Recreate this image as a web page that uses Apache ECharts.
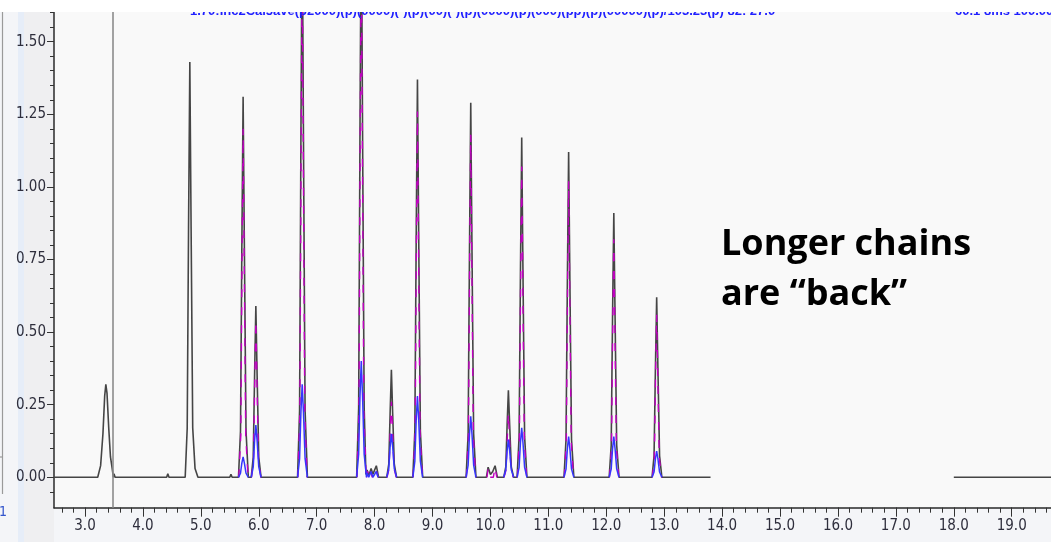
<!DOCTYPE html>
<html><head><meta charset="utf-8">
<script src="https://cdn.jsdelivr.net/npm/echarts@6/dist/echarts.min.js"></script>
<style>html,body{margin:0;padding:0;background:#f4f5f8;}#c{width:1051px;height:542px;}</style>
</head><body><div id="c"></div>
<script>
// ---- data (retention time in min, response) ----
const blackTrace = [
  [2.465,0],
  [3.22,0],[3.27,0.04],[3.31,0.15],[3.34,0.28],[3.36,0.32],[3.38,0.29],[3.41,0.17],[3.44,0.07],[3.47,0.03],[3.49,0],
  [3.50,0.012],[3.52,0],
  [4.41,0],[4.43,0.012],[4.45,0],
  [4.73,0],[4.765,0.17],[4.788,0.86],[4.81,1.43],[4.832,0.86],[4.86,0.17],[4.90,0.03],[4.95,0],
  [5.50,0],[5.52,0.01],[5.54,0],
  [5.65,0],[5.685,0.16],[5.708,0.79],[5.73,1.31],[5.752,0.79],[5.78,0.16],[5.82,0],
  [5.87,0],[5.905,0.07],[5.928,0.35],[5.95,0.59],[5.972,0.35],[6.0,0.07],[6.04,0],
  [6.67,0],[6.705,0.23],[6.728,1.17],[6.75,1.95],[6.772,1.17],[6.80,0.23],[6.84,0],
  [7.69,0],[7.725,0.24],[7.748,1.2],[7.77,2.0],[7.792,1.2],[7.82,0.24],[7.85,0.01],
  [7.87,0.025],[7.90,0.005],[7.94,0.03],[7.97,0.01],[8.03,0.04],[8.07,0],
  [8.21,0],[8.245,0.045],[8.268,0.22],[8.29,0.37],[8.312,0.22],[8.34,0.045],[8.38,0],
  [8.66,0],[8.695,0.16],[8.718,0.82],[8.74,1.37],[8.762,0.82],[8.79,0.16],[8.83,0],
  [9.58,0],[9.615,0.15],[9.638,0.77],[9.66,1.29],[9.682,0.77],[9.71,0.15],[9.75,0],
  [9.93,0],[9.96,0.035],[10.0,0.01],[10.04,0.02],[10.08,0.04],[10.12,0],
  [10.23,0],[10.265,0.036],[10.288,0.18],[10.31,0.30],[10.332,0.18],[10.36,0.036],[10.40,0],
  [10.46,0],[10.495,0.14],[10.518,0.70],[10.54,1.17],[10.562,0.70],[10.59,0.14],[10.63,0],
  [11.27,0],[11.305,0.13],[11.328,0.67],[11.35,1.12],[11.372,0.67],[11.40,0.13],[11.44,0],
  [12.05,0],[12.085,0.11],[12.108,0.55],[12.13,0.91],[12.152,0.55],[12.18,0.11],[12.22,0],
  [12.79,0],[12.825,0.074],[12.848,0.37],[12.87,0.62],[12.892,0.37],[12.92,0.074],[12.96,0],
  [13.80,0],[13.90,null],
  [18.0,0],[19.7,0]
];
const magentaTrace = [
  [5.655,0],[5.69,0.144],[5.71,0.72],[5.73,1.20],[5.75,0.72],[5.775,0.144],[5.815,0],[5.84,null],
  [5.875,0],[5.91,0.065],[5.93,0.32],[5.95,0.54],[5.97,0.32],[5.995,0.065],[6.035,0],[6.1,null],
  [6.675,0],[6.71,0.22],[6.73,1.08],[6.75,1.80],[6.77,1.08],[6.795,0.22],[6.835,0],[6.9,null],
  [7.695,0],[7.73,0.22],[7.75,1.11],[7.77,1.85],[7.79,1.11],[7.815,0.22],[7.855,0],[7.858,null],
  [7.86,0],[7.88,0.02],[7.91,0],[7.93,0.02],[7.96,0],[8.02,0.03],[8.06,0],[8.1,null],
  [8.215,0],[8.25,0.03],[8.27,0.16],[8.29,0.26],[8.31,0.16],[8.335,0.03],[8.375,0],[8.4,null],
  [8.665,0],[8.70,0.15],[8.72,0.76],[8.74,1.26],[8.76,0.76],[8.785,0.15],[8.825,0],[8.9,null],
  [9.585,0],[9.62,0.14],[9.64,0.71],[9.66,1.18],[9.68,0.71],[9.705,0.14],[9.745,0],[9.8,null],
  [9.94,0],[9.96,0.03],[9.99,0],[10.05,0],[10.08,0.035],[10.11,0],[10.2,null],
  [10.235,0],[10.27,0.026],[10.29,0.13],[10.31,0.22],[10.33,0.13],[10.355,0.026],[10.395,0],[10.43,null],
  [10.465,0],[10.50,0.13],[10.52,0.64],[10.54,1.07],[10.56,0.64],[10.585,0.13],[10.625,0],[10.7,null],
  [11.275,0],[11.31,0.12],[11.33,0.61],[11.35,1.02],[11.37,0.61],[11.395,0.12],[11.435,0],[11.5,null],
  [12.055,0],[12.09,0.10],[12.11,0.49],[12.13,0.82],[12.15,0.49],[12.175,0.10],[12.215,0],[12.3,null],
  [12.795,0],[12.83,0.067],[12.85,0.34],[12.87,0.56],[12.89,0.34],[12.915,0.067],[12.955,0]
];
const blueTrace = [
  [5.65,0],[5.685,0.014],[5.708,0.049],[5.73,0.07],[5.752,0.049],[5.78,0.014],[5.82,0],[5.845,null],
  [5.87,0],[5.905,0.036],[5.928,0.126],[5.95,0.18],[5.972,0.126],[6.0,0.036],[6.04,0],[6.1,null],
  [6.67,0],[6.705,0.064],[6.728,0.224],[6.75,0.32],[6.772,0.224],[6.80,0.064],[6.84,0],[6.9,null],
  [7.69,0],[7.725,0.08],[7.748,0.28],[7.77,0.40],[7.792,0.28],[7.82,0.08],[7.86,0],
  [7.87,0.015],[7.90,0],[7.94,0.02],[7.97,0],[8.03,0.02],[8.06,0],[8.1,null],
  [8.21,0],[8.245,0.03],[8.268,0.105],[8.29,0.15],[8.312,0.105],[8.34,0.03],[8.38,0],[8.4,null],
  [8.66,0],[8.695,0.056],[8.718,0.196],[8.74,0.28],[8.762,0.196],[8.79,0.056],[8.83,0],[8.9,null],
  [9.58,0],[9.615,0.042],[9.638,0.147],[9.66,0.21],[9.682,0.147],[9.71,0.042],[9.75,0],[9.8,null],
  [10.23,0],[10.265,0.026],[10.288,0.091],[10.31,0.13],[10.332,0.091],[10.36,0.026],[10.40,0],[10.43,null],
  [10.46,0],[10.495,0.034],[10.518,0.119],[10.54,0.17],[10.562,0.119],[10.59,0.034],[10.63,0],[10.7,null],
  [11.27,0],[11.305,0.028],[11.328,0.098],[11.35,0.14],[11.372,0.098],[11.40,0.028],[11.44,0],[11.5,null],
  [12.05,0],[12.085,0.028],[12.108,0.098],[12.13,0.14],[12.152,0.098],[12.18,0.028],[12.22,0],[12.3,null],
  [12.79,0],[12.825,0.018],[12.848,0.063],[12.87,0.09],[12.892,0.063],[12.92,0.018],[12.96,0]
];
const markerTime = 3.478;
const xRange = [2.465, 19.678];
const yRange = [-0.1047, 1.6023];
const xMajorTicks = [3, 19, 1];      // min, max, step (labelled)
const yMajorTicks = [0, 1.5, 0.25];  // min, max, step (labelled)
const annotationLines = ['Longer chains', 'are \u201Cback\u201D'];
const headerLeft = '1.70:Inc2Cal5ave(p2000)(p)(0000)(-)(p)(00)(-)(p)(0000)(p)(000)(pp)(p)(00000)(p)/103.23(p) 82: 27.0';
const headerRight = '60.1 8ms 100.00 (';

const lblFont = "'Liberation Sans Narrow','DejaVu Sans Condensed','Arial Narrow',sans-serif";
const chart = echarts.init(document.getElementById('c'), null, {renderer:'canvas'});
const hidden = {show:false};
const option = {
  animation:false,
  backgroundColor:'#f4f5f8',
  grid:[
    {left:54,right:0,top:12,bottom:34.3,show:true,backgroundColor:'#f9f9f9',borderWidth:0},
    {left:54,right:0,top:12.66,bottom:50.2},
    {left:54,right:0,top:41.7,bottom:64.7},
    {left:61.83,right:4.53,top:12,bottom:34.3},
    {left:85,right:39.28,top:12,bottom:34.3}
  ],
  xAxis:[
    {gridIndex:0,type:'value',min:xRange[0],max:xRange[1],axisLine:{show:true,onZero:false,lineStyle:{color:'#2a2a2a',width:1.5}},axisTick:hidden,axisLabel:hidden,splitLine:hidden},
    {gridIndex:1,type:'value',min:0,max:1,show:false},
    {gridIndex:2,type:'value',min:0,max:1,show:false},
    {gridIndex:3,type:'value',min:13,max:98,interval:1,axisLine:hidden,axisTick:{show:true,length:5,lineStyle:{color:'#333',width:1}},axisLabel:hidden,splitLine:hidden},
    {gridIndex:4,type:'value',min:xMajorTicks[0],max:xMajorTicks[1],interval:xMajorTicks[2],axisLine:hidden,
      axisTick:{show:true,length:9,lineStyle:{color:'#333',width:1}},
      axisLabel:{show:true,margin:11,color:'#2e2e3c',fontSize:15,fontFamily:lblFont,formatter:v=>v.toFixed(1)},splitLine:hidden}
  ],
  yAxis:[
    {gridIndex:0,type:'value',min:yRange[0],max:yRange[1],axisLine:{show:true,onZero:false,lineStyle:{color:'#2a2a2a',width:1.5}},axisTick:hidden,axisLabel:hidden,splitLine:hidden},
    {gridIndex:1,type:'value',min:-1,max:32,interval:1,axisLine:hidden,axisTick:{show:true,length:4,lineStyle:{color:'#333',width:1}},axisLabel:hidden,splitLine:hidden},
    {gridIndex:2,type:'value',min:yMajorTicks[0],max:yMajorTicks[1],interval:yMajorTicks[2],axisLine:hidden,
      axisTick:{show:true,length:7,lineStyle:{color:'#333',width:1}},
      axisLabel:{show:true,margin:8,color:'#2e2e3c',fontSize:15,fontFamily:lblFont,formatter:v=>v.toFixed(2)},splitLine:hidden},
    {gridIndex:3,type:'value',min:0,max:1,show:false},
    {gridIndex:4,type:'value',min:0,max:1,show:false}
  ],
  series:[
    {type:'line',xAxisIndex:0,yAxisIndex:0,data:blackTrace,showSymbol:false,connectNulls:false,clip:true,
      lineStyle:{color:'#454545',width:1.6},z:3,
      markLine:{silent:true,symbol:'none',label:{show:false},lineStyle:{color:'#8c8c8c',width:1.6,type:'solid'},data:[{xAxis:markerTime}]}},
    {type:'line',xAxisIndex:0,yAxisIndex:0,data:magentaTrace,showSymbol:false,connectNulls:false,clip:true,
      lineStyle:{color:'#c000c0',width:1.4,type:[8,10]},z:4},
    {type:'line',xAxisIndex:0,yAxisIndex:0,data:blueTrace,showSymbol:false,connectNulls:false,clip:true,
      lineStyle:{color:'#3535ff',width:1.5},z:5}
  ],
  graphic:[
    {type:'rect',shape:{x:18,y:0,width:6,height:542},style:{fill:'#e6edf8'},z:0,silent:true},
    {type:'rect',shape:{x:24,y:0,width:30,height:542},style:{fill:'#efeff1'},z:0,silent:true},
    {type:'line',shape:{x1:2.5,y1:12,x2:2.5,y2:494},style:{stroke:'#9a9a9a',lineWidth:1.2},z:1,silent:true},
    {type:'line',shape:{x1:0,y1:457,x2:2.5,y2:457},style:{stroke:'#9a9a9a',lineWidth:1.2},z:1,silent:true},
    {type:'text',left:-1,top:505,style:{text:'1',fill:'#3355cc',font:'14px '+lblFont},z:1,silent:true},
    {type:'text',left:190,top:5,style:{text:headerLeft,fill:'#1f1fff',font:'bold 13px Liberation Sans'},z:50,silent:true},
    {type:'text',left:955,top:5,style:{text:headerRight,fill:'#1f1fff',font:'bold 13px Liberation Sans'},z:50,silent:true},
    {type:'rect',shape:{x:0,y:0,width:1051,height:12},style:{fill:'#ffffff'},z:60,silent:true},
    {type:'text',left:721,top:227,style:{text:annotationLines[0],fill:'#000',font:'bold 36px "Open Sans"'},z:70,silent:true},
    {type:'text',left:721,top:277,style:{text:annotationLines[1],fill:'#000',font:'bold 36px "Open Sans"'},z:70,silent:true}
  ]
};
chart.setOption(option);
</script></body></html>
